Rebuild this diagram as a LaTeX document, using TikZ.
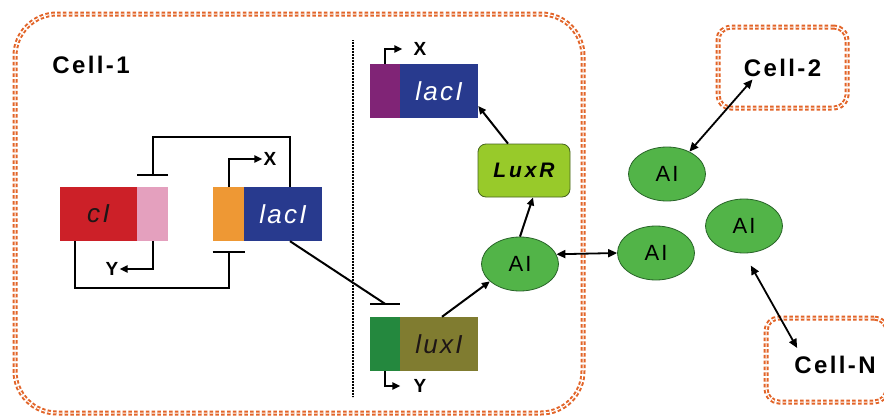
\documentclass[tikz,border=0pt]{standalone}
\usepackage{fontspec}
\setmainfont{Liberation Sans}
\usetikzlibrary{arrows.meta,shapes.geometric,calc}
\definecolor{cellor}{RGB}{226,100,40}
\definecolor{cired}{RGB}{204,32,40}
\definecolor{cipink}{RGB}{228,160,190}
\definecolor{laor}{RGB}{238,152,52}
\definecolor{lablue}{RGB}{40,58,142}
\definecolor{lapurple}{RGB}{128,36,118}
\definecolor{luxgreen}{RGB}{36,136,62}
\definecolor{luxolive}{RGB}{128,124,48}
\definecolor{luxrfill}{RGB}{152,202,42}
\definecolor{luxrdark}{RGB}{70,100,30}
\definecolor{aigreen}{RGB}{82,180,72}
\definecolor{aiborder}{RGB}{40,100,40}
\definecolor{txtdark}{RGB}{30,22,22}
\newcommand{\genefont}{\fontsize{26}{28}\selectfont\itshape\addfontfeature{LetterSpace=9}}
\newcommand{\cellfont}{\fontsize{24}{26}\selectfont\bfseries\addfontfeature{LetterSpace=10}}
\newcommand{\labfont}{\fontsize{19}{20}\selectfont\bfseries}
\newcommand{\aifont}{\fontsize{22}{23}\selectfont\addfontfeature{LetterSpace=10}}
\newcommand{\luxrfont}{\fontsize{21}{22}\selectfont\bfseries\itshape\addfontfeature{LetterSpace=14}}
\begin{document}
\begin{tikzpicture}[x=1pt,y=-1pt,
  gene/.style={rectangle, draw=none, inner sep=0pt, minimum height=54pt, font=\genefont},
  ln/.style={line width=2pt, draw=black},
  act/.style={ln, -{Triangle[length=8pt,width=7pt]}},
  inh/.style={ln, -{Bar[width=#1]}},
  dbl/.style={line width=1.8pt, {Triangle[length=9pt,width=8pt]}-{Triangle[length=9pt,width=8pt]}},
  cellbox/.style={draw=cellor, line width=2pt, double=white, double distance=1pt, dash pattern=on 3.5pt off 2.3pt},
  celllab/.style={font=\cellfont, text=black, inner sep=1pt},
  ainode/.style={ellipse, draw=aiborder, fill=aigreen, line width=0.8pt, minimum width=77pt, minimum height=54pt, inner sep=0pt, font=\aifont, text=black},
  lab/.style={font=\labfont, inner sep=1pt},
  dotline/.style={line width=1.4pt, dash pattern=on 0.9pt off 0.6pt}
]
\useasboundingbox (0,0) rectangle (884,418);
\fill[white] (0,0) rectangle (884,418);

% Cell-1 membrane
\draw[cellbox, rounded corners=42pt] (15,14) rectangle (583,413);
\node[celllab] (c1t) at (91,65) {Cell-1};

% Cell-2 and Cell-N
\node[cellbox, rounded corners=13pt, minimum width=129pt, minimum height=81pt, inner sep=0pt, font=\cellfont] (c2) at (782.5,67.5) {Cell-2};
\node[cellbox, rounded corners=13pt, minimum width=121pt, minimum height=84pt, inner sep=0pt] (cN) at (826.5,360) {};
\node[celllab] (cNt) at (835,365) {Cell-N};

% dotted separator
\coordinate (d1) at (353,40);
\coordinate (d2) at (353,397);
\draw[dotline] (d1) -- (d2);

% left genes
\node[gene, fill=cired, minimum width=77pt, text=txtdark] (cIr) at (98.5,214) {cI};
\node[gene, fill=cipink, minimum width=31pt] (cIp) at (152.5,214) {};
\node[gene, fill=laor, minimum width=31pt] (lacIo) at (228.5,214) {};
\node[gene, fill=lablue, minimum width=78pt, text=white] (lacIb) at (283,214) {lacI};

% right genes
\node[gene, fill=lapurple, minimum width=30pt] (lacIp) at (385,91) {};
\node[gene, fill=lablue, minimum width=78pt, text=white] (lacIr) at (439,91) {lacI};
\node[gene, fill=luxgreen, minimum width=30pt] (luxIp) at (385,344) {};
\node[gene, fill=luxolive, minimum width=78pt, text=txtdark] (luxIr) at (439,344) {luxI};

\node[draw=luxrdark, fill=luxrfill, rounded corners=8pt, minimum width=92pt, minimum height=53pt, line width=0.8pt, font=\luxrfont, text=black] (luxR) at (524,170.5) {LuxR};

% AI molecules
\node[ainode] (ai0) at (520,264) {AI};
\node[ainode] (ai1) at (667,174) {AI};
\node[ainode] (ai2) at (656,253) {AI};
\node[ainode] (ai3) at (744,226) {AI};

% labels
\node[lab] (x1) at (270,159) {X};
\node[lab] (y1) at (112,269) {Y};
\node[lab] (x2) at (420,49) {X};
\node[lab] (y2) at (420,386) {Y};

% left circuit
\draw[inh=31pt] ([xshift=7pt]lacIb.north) -- ++(0,-50) -| ([yshift=11pt]cIp.north);
\draw[inh=32pt] ([xshift=-23.5pt]cIr.south) -- ++(0,47) -| ([yshift=-10pt]lacIo.south);
\draw[act] (cIp.south) |- (y1.east);
\draw[act] (lacIo.north) |- (x1.west);

% lacI -| luxI
\draw[ln] ([xshift=7pt]lacIb.south) -- ([yshift=13pt]luxIp.north) coordinate (tb);
\draw[ln] ([xshift=-15pt]tb) -- ([xshift=15pt]tb);

% right promoters
\draw[act] (lacIp.north) |- ([xshift=-10pt]x2.west);
\draw[act] (luxIp.south) |- ([xshift=-12pt]y2.west);

% pathway
\draw[act] ([xshift=3pt]luxIr.north) -- (ai0.210);
\draw[act] (ai0.north) -- ([xshift=9pt]luxR.south);
\draw[act] ([xshift=-16pt]luxR.north) -- ([yshift=-15pt]lacIr.east);

% exchange
\draw[dbl] (ai0.15) -- (ai2.west);
\draw[dbl] (ai1.45) -- ($(c2.center)+(-30,12)$);
\draw[dbl, shorten <=14pt] (ai3.south) -- ($(cNt.north west)+(4,-7)$);
\end{tikzpicture}
\end{document}
